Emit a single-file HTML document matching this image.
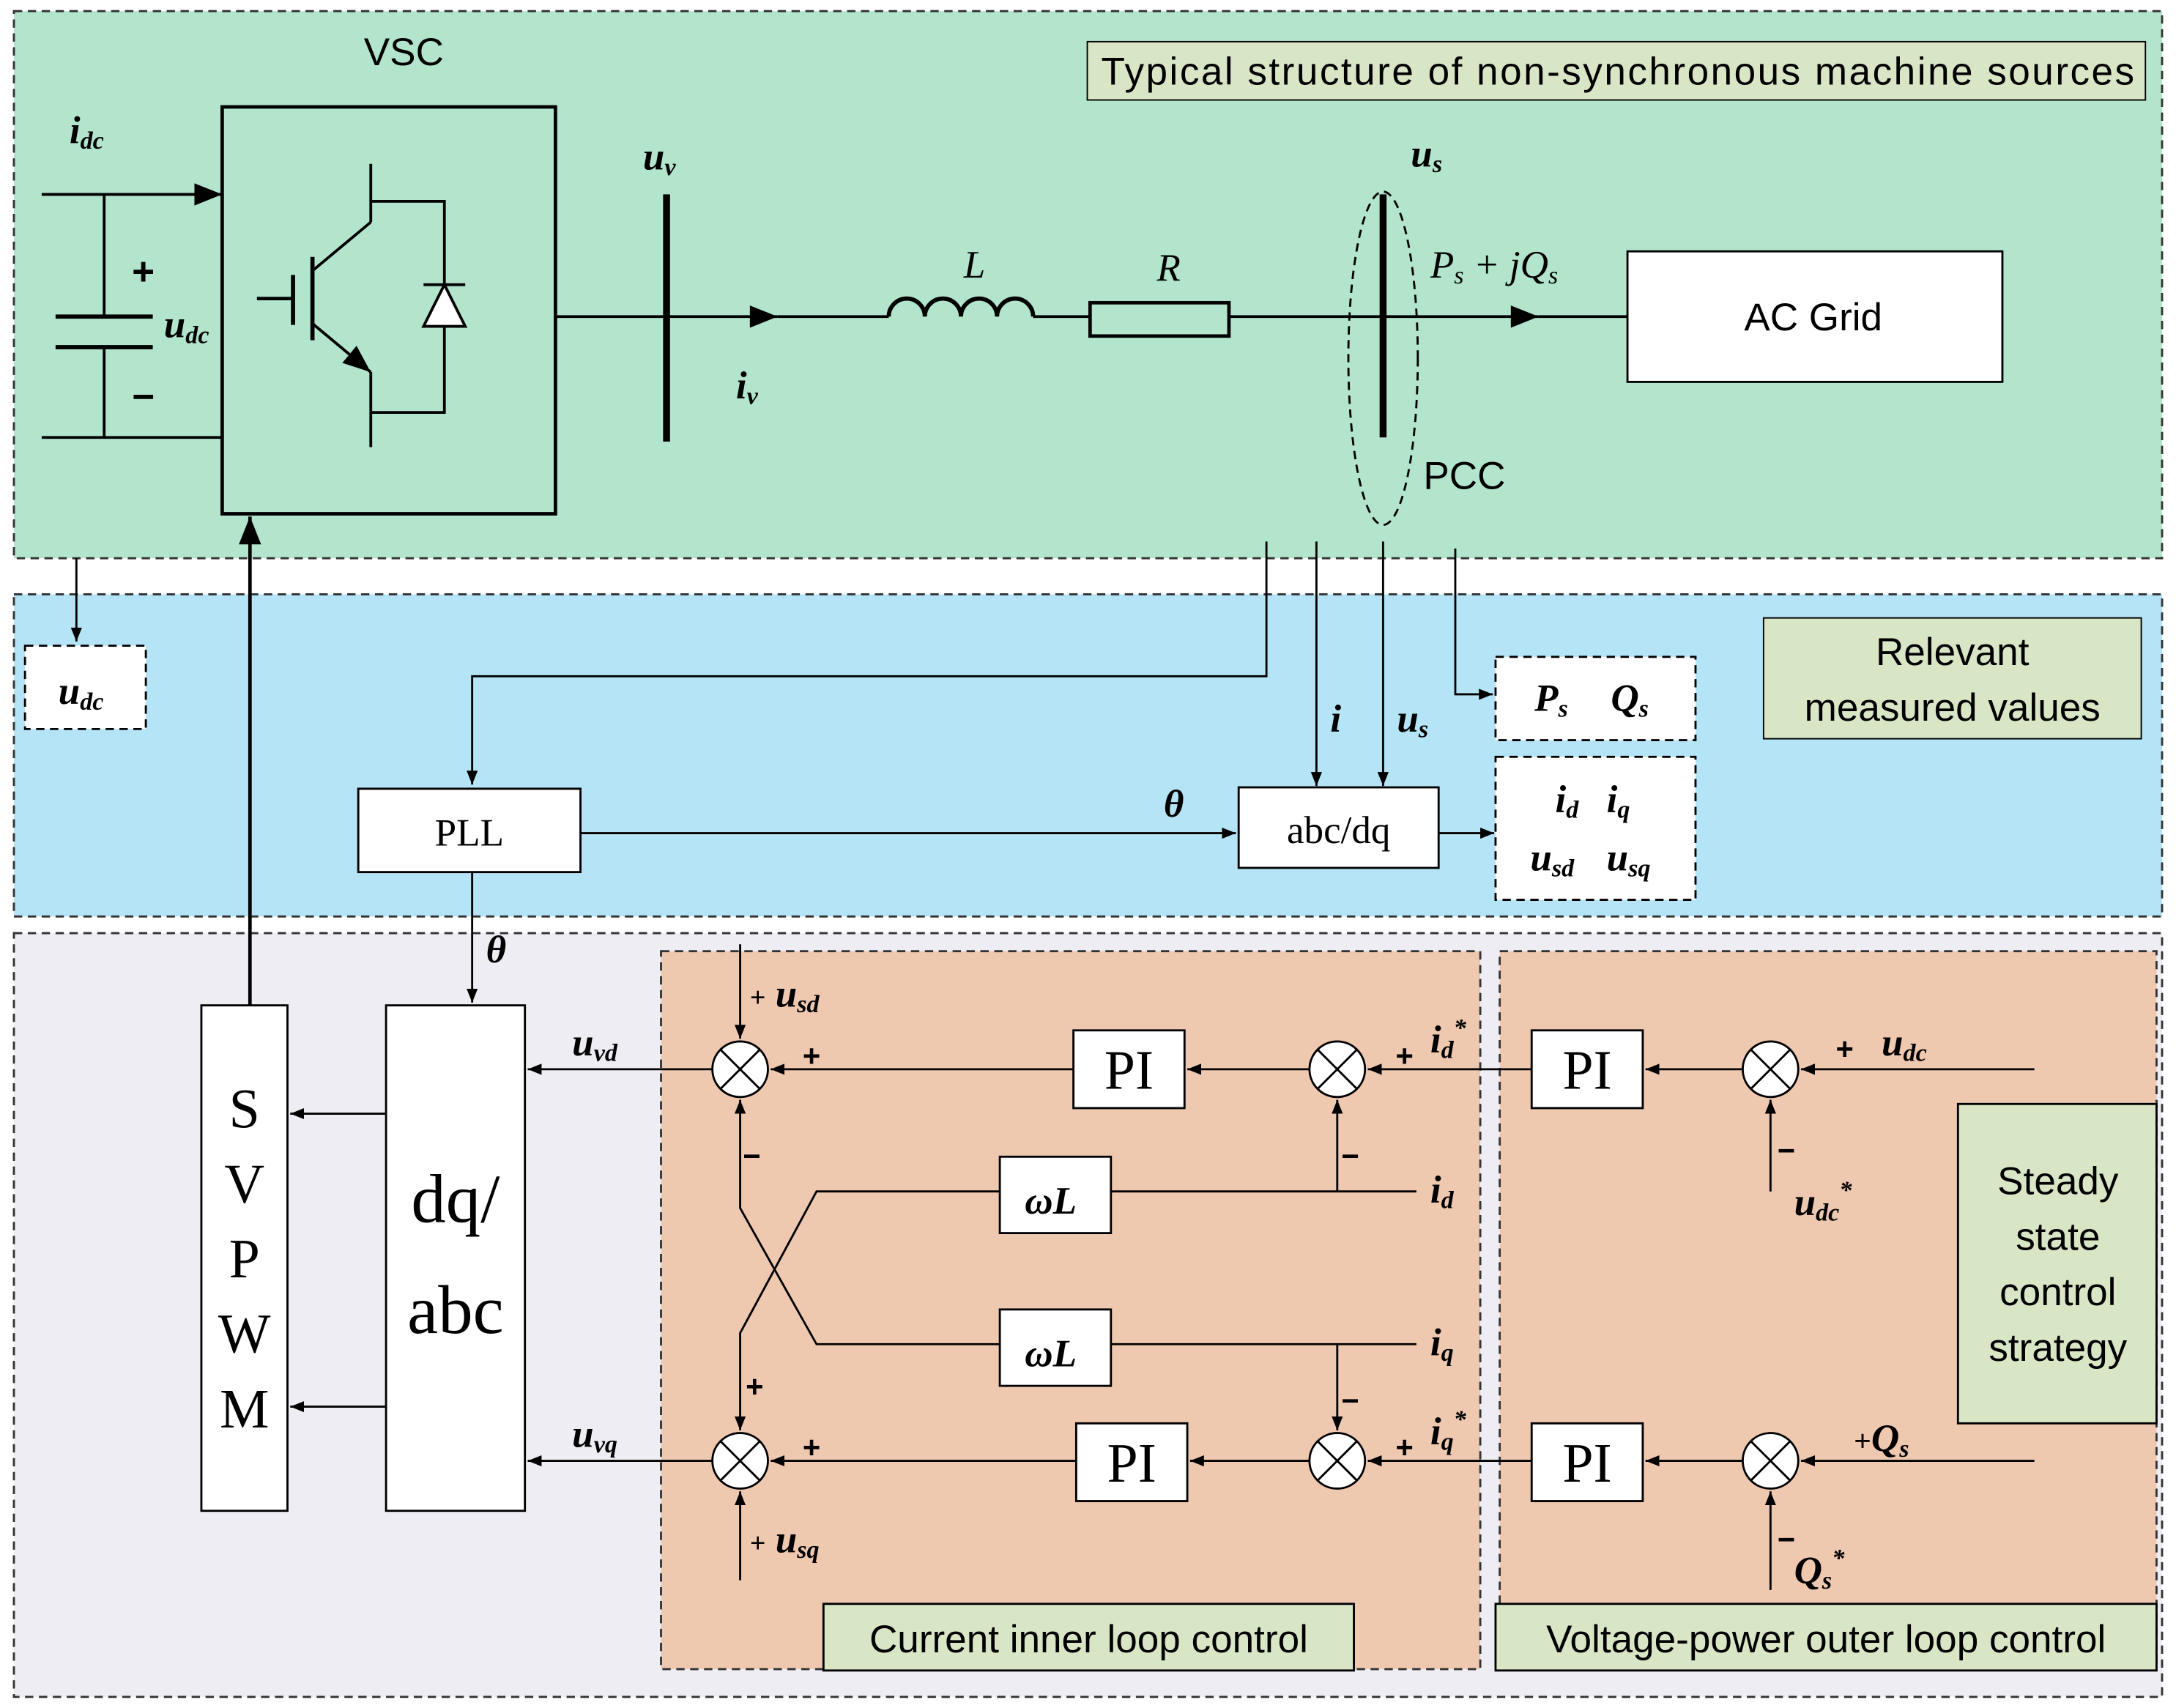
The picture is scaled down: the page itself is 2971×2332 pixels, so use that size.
<!DOCTYPE html>
<html><head><meta charset="utf-8"><style>
html,body{margin:0;padding:0;background:#fff;}
svg{display:block;}
.v{font-family:"Liberation Serif",serif;font-weight:bold;font-style:italic;}
.s{font-family:"Liberation Sans",sans-serif;}
.r{font-family:"Liberation Serif",serif;}
</style></head><body>
<svg width="2971" height="2332" viewBox="0 0 1567 1230" xmlns="http://www.w3.org/2000/svg">
<defs>
<marker id="a" viewBox="0 0 10 10" refX="10" refY="5" markerWidth="10" markerHeight="10" markerUnits="userSpaceOnUse" orient="auto"><path d="M0,1 L10,5 L0,9 z" fill="#000"/></marker>
<marker id="b" viewBox="0 0 10 10" refX="10" refY="5" markerWidth="30" markerHeight="20" markerUnits="userSpaceOnUse" orient="auto"><path d="M0,1 L10,5 L0,9 z" fill="#000"/></marker>
</defs>
<rect x="10" y="8" width="1547" height="394" fill="#b2e5cc" stroke="#333" stroke-width="1.5" stroke-dasharray="6,4"/>
<rect x="10" y="428" width="1547" height="232" fill="#b4e4f6" stroke="#333" stroke-width="1.5" stroke-dasharray="6,4"/>
<rect x="10" y="672" width="1547" height="550" fill="#efedf4" stroke="#333" stroke-width="1.5" stroke-dasharray="6,4"/>
<rect x="476" y="685" width="590" height="517" fill="#efc8b0" stroke="#333" stroke-width="1.5" stroke-dasharray="6,4"/>
<rect x="1080" y="685" width="473" height="517" fill="#efc8b0" stroke="#333" stroke-width="1.5" stroke-dasharray="6,4"/>
<g stroke="#000" stroke-width="2" fill="none">
<line x1="30" y1="140" x2="160" y2="140" marker-end="url(#b)"/>
<line x1="30" y1="315" x2="160" y2="315"/>
<line x1="75" y1="140" x2="75" y2="228"/><line x1="75" y1="250" x2="75" y2="315"/>
<line x1="40" y1="228" x2="110" y2="228" stroke-width="3"/><line x1="40" y1="250" x2="110" y2="250" stroke-width="3"/>
<rect x="160" y="77" width="240" height="293" stroke-width="2.5"/>
<line x1="185" y1="215" x2="210" y2="215" stroke-width="2.5"/>
<line x1="211" y1="198" x2="211" y2="234" stroke-width="3"/>
<line x1="225" y1="185" x2="225" y2="245" stroke-width="3"/>
<line x1="225" y1="195" x2="267" y2="160"/><line x1="267" y1="160" x2="267" y2="118"/>
<line x1="225" y1="233" x2="267" y2="268" marker-end="url(#b)"/><line x1="267" y1="268" x2="267" y2="322"/>
<polyline points="267,145 320,145 320,297 267,297"/>
<polygon points="305,235 335,235 320,205" fill="#fff"/><line x1="305" y1="205" x2="335" y2="205"/>
<line x1="400" y1="228" x2="560" y2="228" marker-end="url(#b)"/>
<line x1="560" y1="228" x2="640" y2="228"/>
<line x1="480" y1="140" x2="480" y2="318" stroke-width="5"/>
<path d="M640,228 a13,13 0 0 1 26,0 a13,13 0 0 1 26,0 a13,13 0 0 1 26,0 a13,13 0 0 1 26,0" stroke-width="3"/>
<line x1="744" y1="228" x2="785" y2="228"/>
<rect x="785" y="218" width="100" height="24" stroke-width="2.5"/>
<line x1="885" y1="228" x2="1108" y2="228" marker-end="url(#b)"/>
<line x1="1108" y1="228" x2="1172" y2="228"/>
<line x1="996" y1="140" x2="996" y2="315" stroke-width="5"/>
<ellipse cx="996" cy="258" rx="25" ry="120" stroke-width="1.5" stroke-dasharray="6,4"/>
<rect x="1172" y="181" width="270" height="94" fill="#fff" stroke-width="1.5"/>
<rect x="783" y="30" width="762" height="42" fill="#d8e6c6" stroke-width="1"/>
<polyline points="912,390 912,487 340,487 340,565" stroke-width="1.5" marker-end="url(#a)"/>
<line x1="948" y1="390" x2="948" y2="566" stroke-width="1.5" marker-end="url(#a)"/>
<line x1="996" y1="390" x2="996" y2="566" stroke-width="1.5" marker-end="url(#a)"/>
<polyline points="1048,395 1048,500 1075,500" stroke-width="1.5" marker-end="url(#a)"/>
<line x1="55" y1="402" x2="55" y2="462" stroke-width="1.5" marker-end="url(#a)"/>
<rect x="258" y="568" width="160" height="60" fill="#fff" stroke-width="1.5"/>
<rect x="892" y="567" width="144" height="58" fill="#fff" stroke-width="1.5"/>
<line x1="418" y1="600" x2="890" y2="600" stroke-width="1.5" marker-end="url(#a)"/>
<line x1="1036" y1="600" x2="1076" y2="600" stroke-width="1.5" marker-end="url(#a)"/>
<rect x="18" y="465" width="87" height="60" fill="#fff" stroke-width="1.5" stroke-dasharray="6,4"/>
<rect x="1077" y="473" width="144" height="60" fill="#fff" stroke-width="1.5" stroke-dasharray="6,4"/>
<rect x="1077" y="545" width="144" height="103" fill="#fff" stroke-width="1.5" stroke-dasharray="6,4"/>
<rect x="1270" y="445" width="272" height="87" fill="#d8e6c6" stroke-width="1"/>
<line x1="180" y1="724" x2="180" y2="372" stroke-width="2.5" marker-end="url(#b)"/>
<rect x="145" y="724" width="62" height="364" fill="#fff" stroke-width="1.5"/>
<rect x="278" y="724" width="100" height="364" fill="#fff" stroke-width="1.5"/>
<line x1="340" y1="628" x2="340" y2="722" stroke-width="1.5" marker-end="url(#a)"/>
<line x1="278" y1="802" x2="209" y2="802" stroke-width="1.5" marker-end="url(#a)"/>
<line x1="278" y1="1013" x2="209" y2="1013" stroke-width="1.5" marker-end="url(#a)"/>
<g stroke-width="1.5" fill="#fff">
<rect x="773" y="742" width="80" height="56"/><rect x="1103" y="742" width="80" height="56"/>
<rect x="775" y="1025" width="80" height="56"/><rect x="1103" y="1025" width="80" height="56"/>
<rect x="720" y="833" width="80" height="55"/><rect x="720" y="943" width="80" height="55"/>
<rect x="1410" y="795" width="143" height="230" fill="#d8e6c6"/>
<rect x="593" y="1155" width="382" height="48" fill="#d8e6c6"/>
<rect x="1077" y="1155" width="476" height="48" fill="#d8e6c6"/>
</g>
<g stroke-width="1.5">
<line x1="1465" y1="770" x2="1297" y2="770" marker-end="url(#a)"/>
<line x1="1255" y1="770" x2="1185" y2="770" marker-end="url(#a)"/>
<line x1="1103" y1="770" x2="985" y2="770" marker-end="url(#a)"/>
<line x1="943" y1="770" x2="855" y2="770" marker-end="url(#a)"/>
<line x1="773" y1="770" x2="555" y2="770" marker-end="url(#a)"/>
<line x1="513" y1="770" x2="380" y2="770" marker-end="url(#a)"/>
<line x1="533" y1="680" x2="533" y2="748" marker-end="url(#a)"/>
<line x1="1275" y1="858" x2="1275" y2="792" marker-end="url(#a)"/>
<line x1="1020" y1="858" x2="800" y2="858"/>
<line x1="963" y1="858" x2="963" y2="792" marker-end="url(#a)"/>
<polyline points="720,858 588,858 533,960 533,1030" marker-end="url(#a)"/>
<line x1="1020" y1="968" x2="800" y2="968"/>
<line x1="963" y1="968" x2="963" y2="1030" marker-end="url(#a)"/>
<polyline points="720,968 588,968 533,870 533,792" marker-end="url(#a)"/>
<line x1="1465" y1="1052" x2="1297" y2="1052" marker-end="url(#a)"/>
<line x1="1255" y1="1052" x2="1185" y2="1052" marker-end="url(#a)"/>
<line x1="1103" y1="1052" x2="985" y2="1052" marker-end="url(#a)"/>
<line x1="943" y1="1052" x2="857" y2="1052" marker-end="url(#a)"/>
<line x1="775" y1="1052" x2="555" y2="1052" marker-end="url(#a)"/>
<line x1="513" y1="1052" x2="380" y2="1052" marker-end="url(#a)"/>
<line x1="533" y1="1138" x2="533" y2="1074" marker-end="url(#a)"/>
<line x1="1275" y1="1145" x2="1275" y2="1074" marker-end="url(#a)"/>
</g>
<g fill="#fff" stroke-width="1.5">
<circle cx="533" cy="770" r="20"/><circle cx="963" cy="770" r="20"/><circle cx="1275" cy="770" r="20"/>
<circle cx="533" cy="1052" r="20"/><circle cx="963" cy="1052" r="20"/><circle cx="1275" cy="1052" r="20"/>
</g>
<g stroke-width="1.5">
<path d="M519,756 l28,28 M547,756 l-28,28 M949,756 l28,28 M977,756 l-28,28 M1261,756 l28,28 M1289,756 l-28,28"/>
<path d="M519,1038 l28,28 M547,1038 l-28,28 M949,1038 l28,28 M977,1038 l-28,28 M1261,1038 l28,28 M1289,1038 l-28,28"/>
</g>
</g>
<g font-size="28">
<text x="262" y="47" class="s">VSC</text>
<text x="793" y="61" class="s" textLength="744">Typical structure of non-synchronous machine sources</text>
<text x="1256" y="238" class="s">AC Grid</text>
<text x="1025" y="352" class="s">PCC</text>
<text x="1406" y="479" class="s" text-anchor="middle">Relevant</text>
<text x="1406" y="519" class="s" text-anchor="middle">measured values</text>
<text x="1482" y="860" class="s" text-anchor="middle">Steady</text>
<text x="1482" y="900" class="s" text-anchor="middle">state</text>
<text x="1482" y="940" class="s" text-anchor="middle">control</text>
<text x="1482" y="980" class="s" text-anchor="middle">strategy</text>
<text x="784" y="1190" class="s" text-anchor="middle">Current inner loop control</text>
<text x="1315" y="1190" class="s" text-anchor="middle">Voltage-power outer loop control</text>
<text x="338" y="609" class="r" text-anchor="middle">PLL</text>
<text x="964" y="607" class="r" text-anchor="middle">abc/dq</text>
</g>
<g class="r" font-size="40" text-anchor="middle">
<text x="813" y="784">PI</text><text x="1143" y="784">PI</text>
<text x="815" y="1067">PI</text><text x="1143" y="1067">PI</text>
<text x="176" y="812">S</text><text x="176" y="866">V</text><text x="176" y="920">P</text><text x="176" y="974">W</text><text x="176" y="1028">M</text>
<text x="328" y="880" font-size="50">dq/</text><text x="328" y="960" font-size="50">abc</text>
</g>
<g class="v" font-size="28">
<text x="50" y="103">i<tspan font-size="18" dy="4">dc</tspan></text>
<text x="95" y="205" class="s" font-style="normal">+</text>
<text x="95" y="295" class="s" font-style="normal">−</text>
<text x="118" y="243">u<tspan font-size="18" dy="4">dc</tspan></text>
<text x="463" y="122">u<tspan font-size="18" dy="4">v</tspan></text>
<text x="530" y="287">i<tspan font-size="18" dy="4">v</tspan></text>
<text x="694" y="200" font-weight="normal">L</text>
<text x="833" y="202" font-weight="normal">R</text>
<text x="1016" y="120">u<tspan font-size="18" dy="4">s</tspan></text>
<text x="1030" y="200" font-weight="normal">P<tspan font-size="18" dy="4">s</tspan><tspan dy="-4"> + jQ</tspan><tspan font-size="18" dy="4">s</tspan></text>
<text x="42" y="507">u<tspan font-size="18" dy="4">dc</tspan></text>
<text x="958" y="527">i</text>
<text x="1006" y="527">u<tspan font-size="18" dy="4">s</tspan></text>
<text x="1105" y="512">P<tspan font-size="18" dy="4">s</tspan></text>
<text x="1160" y="512">Q<tspan font-size="18" dy="4">s</tspan></text>
<text x="1120" y="585">i<tspan font-size="18" dy="4">d</tspan></text>
<text x="1157" y="585">i<tspan font-size="18" dy="4">q</tspan></text>
<text x="1102" y="627">u<tspan font-size="18" dy="4">sd</tspan></text>
<text x="1157" y="627">u<tspan font-size="18" dy="4">sq</tspan></text>
<text x="838" y="588">θ</text>
<text x="350" y="693">θ</text>
<text x="412" y="760">u<tspan font-size="18" dy="4">vd</tspan></text>
<text x="412" y="1042">u<tspan font-size="18" dy="4">vq</tspan></text>
<text x="540" y="725"><tspan font-size="20" font-style="normal">+</tspan> u<tspan font-size="18" dy="4">sd</tspan></text>
<text x="540" y="1118"><tspan font-size="20" font-style="normal">+</tspan> u<tspan font-size="18" dy="4">sq</tspan></text>
<text x="738" y="874">ωL</text>
<text x="738" y="984">ωL</text>
<text x="1030" y="866">i<tspan font-size="18" dy="4">d</tspan></text>
<text x="1030" y="976">i<tspan font-size="18" dy="4">q</tspan></text>
<text x="1030" y="758">i<tspan font-size="18" dy="4">d</tspan><tspan font-size="18" dy="-16">*</tspan></text>
<text x="1030" y="1040">i<tspan font-size="18" dy="4">q</tspan><tspan font-size="18" dy="-16">*</tspan></text>
<text x="1355" y="760">u<tspan font-size="18" dy="4">dc</tspan></text>
<text x="1292" y="875">u<tspan font-size="18" dy="4">dc</tspan><tspan font-size="18" dy="-16">*</tspan></text>
<text x="1335" y="1045"><tspan font-size="22" font-style="normal">+</tspan>Q<tspan font-size="18" dy="4">s</tspan></text>
<text x="1292" y="1140">Q<tspan font-size="18" dy="4">s</tspan><tspan font-size="18" dy="-16">*</tspan></text>
</g>
<g class="s" font-size="22" font-weight="bold">
<text x="578" y="768">+</text><text x="578" y="1050">+</text>
<text x="1005" y="768">+</text><text x="1005" y="1050">+</text>
<text x="1322" y="763">+</text>
<text x="535" y="840">−</text><text x="537" y="1006">+</text>
<text x="966" y="840">−</text><text x="966" y="1016">−</text>
<text x="1280" y="836">−</text><text x="1280" y="1116">−</text>
</g>
</svg>
</body></html>
